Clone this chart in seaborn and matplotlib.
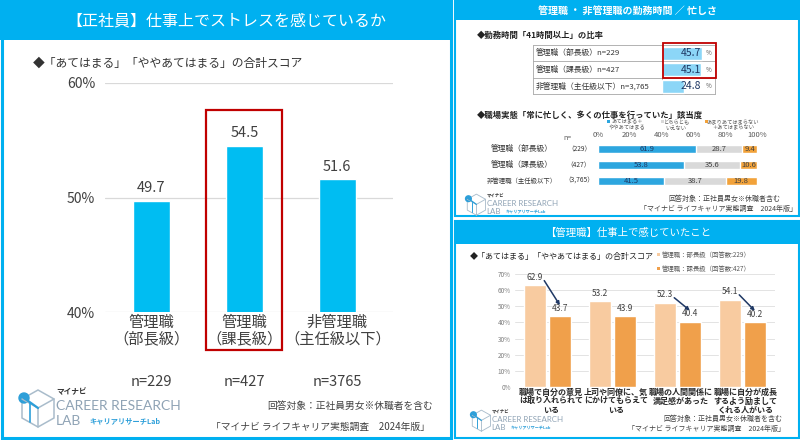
import matplotlib
matplotlib.use("Agg")
import matplotlib.pyplot as plt
import matplotlib.transforms as mtrans
from matplotlib.patches import Rectangle, Polygon, Circle
import seaborn as sns
import pandas as pd
import numpy as np

# ---------------- data ----------------
stress_categories = ["管理職\n（部長級）", "管理職\n（課長級）", "非管理職\n（主任級以下）"]
stress_values = [49.7, 54.5, 51.6]
stress_n = ["n=229", "n=427", "n=3765"]
stress_ticks = [40, 50, 60]

hours_labels = ["管理職（部長級）n=229", "管理職（課長級）n=427", "非管理職（主任級以下）n=3,765"]
hours_values = [45.7, 45.1, 24.8]

busy_rows = ["管理職（部長級）", "管理職（課長級）", "非管理職（主任級以下）"]
busy_n = ["（229）", "（427）", "（3,765）"]
busy_agree = [61.9, 53.8, 41.5]
busy_neutral = [28.7, 35.6, 38.7]
busy_disagree = [9.4, 10.6, 19.8]
busy_legend = ["あてはまる＋\nややあてはまる", "どちらとも\nいえない", "あまりあてはまらない\n＋あてはまらない"]
busy_ticks = [0, 20, 40, 60, 80, 100]

feel_items = ["職場で自分の意見\nは取り入れられて\nいる", "上司や同僚に、気\nにかけてもらえて\nいる",
              "職場の人間関係に\n満足感があった", "職場に自分が成長\nするよう励まして\nくれる人がいる"]
feel_groups = ["管理職：部長級（回答数:229）", "管理職：課長級（回答数:427）"]
feel_bucho = [62.9, 53.2, 52.3, 54.1]
feel_kacho = [43.7, 43.9, 40.4, 40.2]
feel_ticks = [0, 10, 20, 30, 40, 50, 60, 70]
feel_arrow_items = [0, 2, 3]

# ---------------- style ----------------
CYAN = "#00B0F0"
BAR_BLUE = "#00BDF2"
LIGHT_BLUE = "#8CD6F7"
SEG_BLUE = "#2DA6DF"
SEG_GRAY = "#D9D9D9"
SEG_ORANGE = "#F2A23A"
PEACH = "#F8CBA0"
ORANGE = "#F0A04B"
NAVY = "#1F3864"
RED = "#C00000"
TXT = "#404040"
LOGO_BLUE = "#2D9FD9"
LOGO_GRAY = "#A9BCCB"

sns.set_theme(style="white")
plt.rcParams["font.family"] = ["Noto Sans CJK JP", "DejaVu Sans"]

W, H = 800, 440
fig = plt.figure(figsize=(8, 4.4), dpi=100)
fig.patch.set_facecolor("white")

bg = fig.add_axes([0, 0, 1, 1], zorder=0)
bg.set_xlim(0, W); bg.set_ylim(H, 0); bg.axis("off")
fg = fig.add_axes([0, 0, 1, 1], zorder=20)
fg.set_xlim(0, W); fg.set_ylim(H, 0); fg.axis("off"); fg.patch.set_alpha(0)


def axes_px(x0, y0, x1, y1, z=5):
    ax = fig.add_axes([x0 / W, 1 - y1 / H, (x1 - x0) / W, (y1 - y0) / H], zorder=z)
    ax.patch.set_alpha(0)
    return ax


def draw_logo(x, y, s):
    cx = x + 20 * s
    hexpts = [(cx, y + 2 * s), (cx + 16 * s, y + 11 * s), (cx + 16 * s, y + 30 * s),
              (cx, y + 39 * s), (cx - 16 * s, y + 30 * s), (cx - 16 * s, y + 11 * s)]
    bg.add_patch(Polygon(hexpts, closed=True, fill=False, ec=LOGO_GRAY, lw=1.1 * s))
    bg.plot([cx - 16 * s, cx, cx + 16 * s], [y + 11 * s, y + 20 * s, y + 11 * s], color=LOGO_GRAY, lw=1.1 * s)
    bg.plot([cx, cx], [y + 20 * s, y + 39 * s], color=LOGO_GRAY, lw=1.1 * s)
    bg.plot([x + 6 * s, cx], [y + 10 * s, y + 20 * s], color=LOGO_BLUE, lw=1.6 * s)
    bg.plot([cx - 8 * s, cx - 8 * s], [y + 15 * s, y + 34 * s], color=LOGO_BLUE, lw=1.2 * s)
    bg.add_patch(Circle((x + 6 * s, y + 10 * s), 5 * s, color=LOGO_BLUE))
    tx = x + 38 * s
    bg.text(tx, y + 4 * s, "マイナビ", fontsize=5.5 * s, weight="bold", color="#333333", va="center")
    bg.text(tx, y + 18 * s, "CAREER RESEARCH", fontsize=10 * s, family=["Lato", "DejaVu Sans"],
            color="#8FA3B5", va="center")
    bg.text(tx, y + 33 * s, "LAB", fontsize=10 * s, family=["Lato", "DejaVu Sans"],
            color="#8FA3B5", va="center")
    bg.text(tx + 33 * s, y + 33 * s, "キャリアリサーチLab", fontsize=5.2 * s, weight="bold",
            color=LOGO_BLUE, va="center")


# ---------------- panel frames ----------------
bg.add_patch(Rectangle((1.5, 1.5), 449.5, 436.5, fc="white", ec=CYAN, lw=2.2))
bg.add_patch(Rectangle((0, 0), 452, 40, fc=CYAN, ec="none"))
bg.add_patch(Rectangle((454.5, 1), 344, 215, fc="white", ec=CYAN, lw=1.5))
bg.add_patch(Rectangle((454, 0), 346, 20, fc=CYAN, ec="none"))
bg.add_patch(Rectangle((454.5, 221), 344, 217, fc="white", ec=CYAN, lw=1.5))
bg.add_patch(Rectangle((454, 221), 346, 23, fc=CYAN, ec="none"))

# ================= LEFT PANEL =================
bg.text(226, 21, "【正社員】仕事上でストレスを感じているか", color="white", fontsize=11.5,
        ha="center", va="center")
bg.text(33, 63, "◆「あてはまる」「ややあてはまる」の合計スコア", color="#333333", fontsize=8.5,
        ha="left", va="center")

ax1 = axes_px(105, 83, 393, 312)
sns.barplot(x=stress_categories, y=stress_values, color=BAR_BLUE, width=0.4, ax=ax1, saturation=1)
ax1.set_xlim(-0.5, 2.6)
ax1.set_ylim(40, 60)
ax1.set_yticks(stress_ticks)
ax1.set_yticklabels([f"{t}%" for t in stress_ticks])
ax1.set_xticks([])
ax1.set_xlabel(""); ax1.set_ylabel("")
ax1.tick_params(axis="y", length=0, pad=7, labelsize=10, labelcolor=TXT)
ax1.grid(axis="y", color="#D9D9D9", lw=0.9)
ax1.set_axisbelow(True)
for sp in ax1.spines.values():
    sp.set_visible(False)
for c in ax1.containers:
    ax1.bar_label(c, fmt="%.1f", padding=4, fontsize=10.5, color=TXT)

tr1 = mtrans.blended_transform_factory(ax1.transData, bg.transData)
for i, lab in enumerate(stress_categories):
    l1, l2 = lab.split("\n")
    bg.text(i, 322, l1, transform=tr1, ha="center", va="center", fontsize=11, color=TXT)
    bg.text(i, 339, l2, transform=tr1, ha="center", va="center", fontsize=11, color=TXT)
    bg.text(i, 382, stress_n[i], transform=tr1, ha="center", va="center", fontsize=10.5, color=TXT)

trf1 = mtrans.blended_transform_factory(ax1.transData, fg.transData)
fg.add_patch(Rectangle((1 - 0.41, 110), 0.82, 240, transform=trf1, fill=False, ec=RED, lw=1.6))

bg.text(433, 406, "回答対象：正社員男女※休職者を含む", ha="right", va="center", fontsize=7, color=TXT)
bg.text(430, 427, "「マイナビ ライフキャリア実態調査　2024年版」", ha="right", va="center",
        fontsize=7, color=TXT)
draw_logo(18, 388, 1.0)

# ================= TOP RIGHT PANEL =================
bg.text(627, 11, "管理職 ・ 非管理職の勤務時間 ／ 忙しさ", color="white", fontsize=7.2,
        ha="center", va="center", weight="bold")
bg.text(477, 35, "◆勤務時間「41時間以上」の比率", fontsize=6, color="#222222", va="center",
        weight="bold")

row_top, row_h = 45.0, 16.5
for k in range(4):
    yk = row_top + k * row_h
    bg.plot([533, 715], [yk, yk], color="#A6A6A6", lw=0.6)
for xk in [533, 662, 715]:
    bg.plot([xk, xk], [row_top, row_top + 3 * row_h], color="#A6A6A6", lw=0.6)

ax_t = axes_px(662, row_top, 715, row_top + 3 * row_h)
sns.barplot(x=hours_values, y=hours_labels, orient="h", color=LIGHT_BLUE, width=0.8,
            ax=ax_t, saturation=1)
ax_t.set_xlim(0, 61)
ax_t.set_ylim(2.5, -0.5)
ax_t.axis("off")
trt = mtrans.blended_transform_factory(fg.transData, ax_t.transData)
for i, (lab, v) in enumerate(zip(hours_labels, hours_values)):
    fg.text(536, i, lab, transform=trt, fontsize=5.6, color="#333333", va="center", ha="left")
    fg.text(701, i, f"{v:.1f}", transform=trt, fontsize=7.5, color=NAVY, va="center", ha="right")
    fg.text(706, i, "%", transform=trt, fontsize=4.5, color="#595959", va="center", ha="left")
fg.add_patch(Rectangle((663, 43), 53, 35, fill=False, ec=RED, lw=1.3))

bg.text(477, 115, "◆職場実態「常に忙しく、多くの仕事を行っていた」該当度", fontsize=6,
        color="#222222", va="center", weight="bold")

seg_colors = [SEG_BLUE, SEG_GRAY, SEG_ORANGE]
legend_sq_x = [607, 661, 705]
legend_tx_x = [627, 676, 733]
for c, sx, tx, lab in zip(seg_colors, legend_sq_x, legend_tx_x, busy_legend):
    bg.add_patch(Rectangle((sx, 120.5), 3, 3, fc=c, ec="none"))
    bg.text(tx, 125, lab, fontsize=3.8, color="#595959", ha="center", va="center",
            multialignment="center", linespacing=1.1)

ax_b = axes_px(598, 141, 757, 189)
cum2 = [a + b for a, b in zip(busy_agree, busy_neutral)]
cum3 = [a + b + c for a, b, c in zip(busy_agree, busy_neutral, busy_disagree)]
sns.barplot(x=cum3, y=busy_rows, orient="h", color=SEG_ORANGE, width=0.56, ax=ax_b, saturation=1)
sns.barplot(x=cum2, y=busy_rows, orient="h", color=SEG_GRAY, width=0.56, ax=ax_b, saturation=1)
sns.barplot(x=busy_agree, y=busy_rows, orient="h", color=SEG_BLUE, width=0.56, ax=ax_b, saturation=1)
ax_b.set_xlim(0, 100)
ax_b.set_ylim(2.5, -0.5)
ax_b.xaxis.tick_top()
ax_b.set_xticks(busy_ticks)
ax_b.set_xticklabels([f"{t}%" for t in busy_ticks])
ax_b.set_yticks([])
ax_b.set_xlabel(""); ax_b.set_ylabel("")
ax_b.tick_params(axis="x", length=0, pad=1.5, labelsize=5.5, labelcolor="#595959")
for sp in ax_b.spines.values():
    sp.set_visible(False)
for i in range(len(busy_rows)):
    segs = [busy_agree[i], busy_neutral[i], busy_disagree[i]]
    left = 0
    for j, v in enumerate(segs):
        ax_b.text(left + v / 2, i, f"{v:.1f}", ha="center", va="center", fontsize=5.5,
                  color=NAVY if j == 0 else TXT)
        left += v
trb = mtrans.blended_transform_factory(bg.transData, ax_b.transData)
for i, (lab, n) in enumerate(zip(busy_rows, busy_n)):
    bg.text(522, i, lab, transform=trb, ha="center", va="center",
            fontsize=5.6 if i < 2 else 4.6, color="#333333")
    bg.text(579, i, n, transform=trb, ha="center", va="center", fontsize=4.8, color="#333333")
bg.text(567, 138, "n=", fontsize=5, color="#595959", ha="center", va="center")

bg.text(780, 199, "回答対象：正社員男女※休職者含む", ha="right", va="center", fontsize=5, color=TXT)
bg.text(797, 209, "「マイナビ ライフキャリア実態調査　2024年版」", ha="right", va="center",
        fontsize=5, color=TXT)
draw_logo(465, 193, 0.57)

# ================= BOTTOM RIGHT PANEL =================
bg.text(628, 233, "【管理職】仕事上で感じていたこと", color="white", fontsize=7.5,
        ha="center", va="center")
bg.text(470, 257, "◆「あてはまる」「ややあてはまる」の合計スコア", fontsize=5.8, color="#222222",
        va="center")
for k, (c, lab) in enumerate(zip([PEACH, ORANGE], feel_groups)):
    yk = 255 + k * 14
    bg.add_patch(Rectangle((657, yk - 1.5), 3, 3, fc=c, ec="none"))
    bg.text(662, yk, lab, fontsize=4.6, color="#595959", va="center")

df_feel = pd.DataFrame({
    "item": feel_items * 2,
    "group": [feel_groups[0]] * len(feel_items) + [feel_groups[1]] * len(feel_items),
    "value": feel_bucho + feel_kacho,
})
ax_f = axes_px(515, 274, 775, 387)
sns.barplot(data=df_feel, x="item", y="value", hue="group", palette=[PEACH, ORANGE],
            width=0.76, gap=0.1, ax=ax_f, saturation=1, legend=False)
ax_f.set_xlim(-0.5, 3.5)
ax_f.set_ylim(0, 70)
ax_f.set_yticks(feel_ticks)
ax_f.set_yticklabels([f"{t}%" for t in feel_ticks])
ax_f.set_xticks([])
ax_f.set_xlabel(""); ax_f.set_ylabel("")
ax_f.tick_params(axis="y", length=0, pad=3, labelsize=4.6, labelcolor="#7F7F7F")
ax_f.grid(axis="y", color="#E3E3E3", lw=0.7)
ax_f.set_axisbelow(True)
for sp in ax_f.spines.values():
    sp.set_visible(False)
for c in ax_f.containers:
    ax_f.bar_label(c, fmt="%.1f", padding=2.5, fontsize=6, color=TXT)
for i in feel_arrow_items:
    ax_f.annotate("", xy=(i + 0.19, feel_kacho[i] + 7), xytext=(i - 0.05, feel_bucho[i] + 3),
                  arrowprops=dict(arrowstyle="-|>", color=NAVY, lw=1.1, mutation_scale=5,
                                  shrinkA=0, shrinkB=0), annotation_clip=False)
trf = mtrans.blended_transform_factory(ax_f.transData, bg.transData)
for i, lab in enumerate(feel_items):
    for k, line in enumerate(lab.split("\n")):
        bg.text(i + 0.05, 392 + k * 9, line, transform=trf, ha="center", va="center",
                fontsize=5.8, weight="bold", color="#262626")

bg.text(782, 419, "回答対象：正社員男女※休職者を含む", ha="right", va="center", fontsize=5, color=TXT)
bg.text(785, 429, "「マイナビ ライフキャリア実態調査　2024年版」", ha="right", va="center",
        fontsize=5, color=TXT)
draw_logo(470, 409, 0.57)

fig.savefig("out.png", dpi=100)
